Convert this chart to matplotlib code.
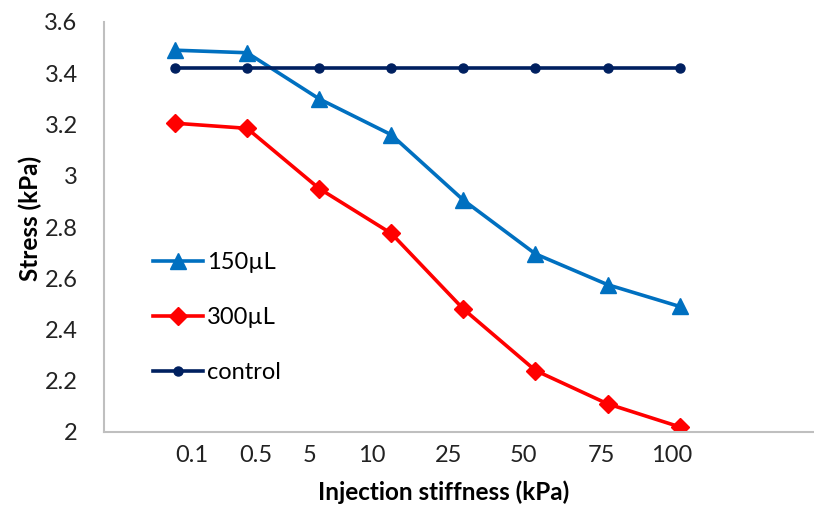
from matplotlib import pyplot as plt
import numpy as np

plt.rcParams['font.family'] = ['Lato', 'DejaVu Sans']

# значения
stiffness = ['0.1', '0.5', '5', '10', '25', '50', '75', '100']
s150 = [3.49, 3.48, 3.30, 3.16, 2.905, 2.695, 2.575, 2.49]
s300 = [3.205, 3.185, 2.95, 2.775, 2.48, 2.24, 2.11, 2.02]
control = [3.42, 3.42, 3.42, 3.42, 3.42, 3.42, 3.42, 3.42]

# подписи на оси x стоят не точно под точками, как в оригинале
label_pos = [0.24, 1.12, 1.86, 2.73, 3.79, 4.84, 5.92, 6.89]

x = np.arange(len(stiffness))

fig = plt.figure(figsize=(8.14, 5.15), dpi=100)
ax = fig.add_axes([104 / 814, 1 - 432 / 515, 709 / 814, 410 / 515])

ax.plot(x, s150, color='#0070C0', lw=2.6, marker='^', markersize=11.5, label='150µL')
ax.plot(x, s300, color='#FF0000', lw=2.6, marker='D', markersize=9, label='300µL')
ax.plot(x, control, color='#002060', lw=2.6, marker='o', markersize=6.5, label='control')

ax.set_xlim(-0.985, 8.85)
ax.set_ylim(2, 3.6)
ax.set_yticks([2, 2.2, 2.4, 2.6, 2.8, 3, 3.2, 3.4, 3.6])
ax.set_yticklabels(['2', '2.2', '2.4', '2.6', '2.8', '3', '3.2', '3.4', '3.6'])
ax.set_xticks(label_pos)
ax.set_xticklabels(stiffness)
ax.tick_params(axis='both', length=0, labelsize=17, colors='#222222')
ax.tick_params(axis='y', pad=19)
ax.tick_params(axis='x', pad=9)

for side in ['top', 'right']:
    ax.spines[side].set_visible(False)
for side in ['left', 'bottom']:
    ax.spines[side].set_color('#BFBFBF')
    ax.spines[side].set_linewidth(1.5)

ax.set_ylabel('Stress (kPa)', fontsize=17.5, fontweight='bold')
ax.yaxis.set_label_coords((42 - 104) / 709, (432 - 218) / 410)
ax.set_xlabel('Injection stiffness (kPa)', fontsize=17.5, fontweight='bold')
ax.xaxis.set_label_coords((444 - 104) / 709, -(480 - 432) / 410)

ax.legend(loc='upper left', bbox_to_anchor=((153 - 104) / 709, (432 - 252) / 410),
          frameon=False, fontsize=17, handlelength=2.1, handletextpad=0.2,
          labelspacing=1.45, borderpad=0, borderaxespad=0)

fig.savefig('out.png', dpi=100)
